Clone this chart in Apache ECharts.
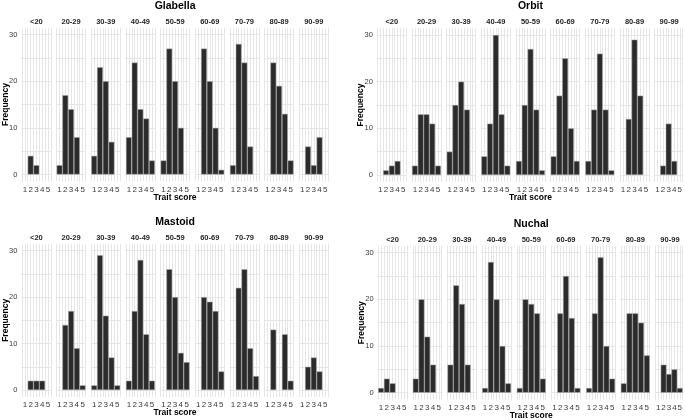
<!DOCTYPE html>
<html>
<head>
<meta charset="utf-8">
<script src="https://cdn.jsdelivr.net/npm/echarts@6/dist/echarts.min.js"></script>
<style>
  html, body { margin: 0; padding: 0; background: #fff; }
  #chart { width: 685px; height: 420px; }
</style>
</head>
<body>
<div id="chart"></div>
<script>
// facets and scores
const ageGroups = ['<20', '20-29', '30-39', '40-49', '50-59', '60-69', '70-79', '80-89', '90-99'];
const scores = [1, 2, 3, 4, 5];
const yTicks = [0, 10, 20, 30];
const yGrid = [0, 5, 10, 15, 20, 25, 30];

// counts per age group, scores 1..5
const glabella = [
  [0, 4, 2, 0, 0], [2, 17, 14, 8, 0], [4, 23, 20, 7, 0], [8, 24, 14, 12, 3], [3, 27, 20, 10, 0],
  [0, 27, 20, 10, 1], [2, 28, 24, 6, 0], [0, 24, 19, 13, 3], [0, 6, 2, 8, 0]
];
const orbit = [
  [0, 1, 2, 3, 0], [2, 13, 13, 11, 2], [5, 15, 20, 14, 0], [4, 11, 30, 13, 2], [3, 15, 27, 14, 1],
  [4, 17, 25, 10, 3], [3, 14, 26, 14, 1], [0, 12, 29, 17, 0], [0, 2, 11, 3, 0]
];
const mastoid = [
  [0, 2, 2, 2, 0], [0, 14, 17, 9, 1], [1, 29, 16, 7, 1], [2, 17, 28, 12, 2], [0, 26, 20, 8, 6],
  [0, 20, 19, 17, 4], [0, 22, 26, 9, 3], [0, 13, 0, 12, 2], [0, 5, 7, 4, 0]
];
const nuchal = [
  [1, 3, 2, 0, 0], [3, 20, 12, 6, 0], [6, 23, 19, 6, 0], [1, 28, 20, 10, 2], [1, 20, 19, 17, 3],
  [0, 17, 25, 16, 1], [1, 17, 29, 10, 3], [2, 17, 17, 15, 8], [0, 6, 4, 5, 1]
];

const traits = [
  { name: 'Glabella', counts: glabella },
  { name: 'Orbit', counts: orbit },
  { name: 'Mastoid', counts: mastoid },
  { name: 'Nuchal', counts: nuchal }
];

// panel placement (px): left edge of first facet, top / bottom of plotting area
const panels = [
  { left: 21.4, top: 27.6, bottom: 181.5 },
  { left: 376.8, top: 28.0, bottom: 182.0 },
  { left: 21.4, top: 243.7, bottom: 397.0 },
  { left: 377.6, top: 245.7, bottom: 399.7 }
];
const FACET_W = 30;
const FACET_STEP = 34.67;
const UNIT = FACET_W / 5.2;
const FONT = '"Liberation Sans", Arial, sans-serif';
const xGrid = [0.5, 1, 1.5, 2, 2.5, 3, 3.5, 4, 4.5, 5, 5.5];

const grid = [], xAxis = [], yAxis = [], series = [], graphic = [];
const gridLine = { show: true, lineStyle: { color: '#e6e6e6', width: 1 } };

traits.forEach((t, p) => {
  const pn = panels[p];
  const h = pn.bottom - pn.top;
  const zeroY = pn.bottom - h * 1.5 / 33;
  ageGroups.forEach((g, f) => {
    const k = grid.length;
    const left = pn.left + f * FACET_STEP;
    grid.push({ left: left, top: pn.top, width: FACET_W, height: h, containLabel: false });
    xAxis.push({
      gridIndex: k, type: 'value', min: 0.4, max: 5.6,
      axisLine: { show: false },
      axisTick: { show: false, customValues: xGrid },
      axisLabel: { customValues: scores, fontSize: 8, color: '#3a3a3a', fontFamily: FONT, margin: 4 },
      splitLine: gridLine
    });
    yAxis.push({
      gridIndex: k, type: 'value', min: -1.5, max: 31.5,
      axisLine: { show: false },
      axisTick: { show: false, customValues: yGrid },
      axisLabel: { show: f === 0, customValues: yTicks, fontSize: 7.5, color: '#3a3a3a', fontFamily: FONT, margin: 4 },
      splitLine: gridLine
    });
    series.push({
      type: 'bar', xAxisIndex: k, yAxisIndex: k,
      data: scores.map((s, i) => [s, t.counts[f][i]]).filter(d => d[1] > 0),
      barWidth: UNIT,
      itemStyle: { color: '#2b2b2b', borderColor: '#a8a8a8', borderWidth: 0.5 },
      silent: true
    });
    graphic.push({
      type: 'text', x: left + FACET_W / 2, y: pn.top - 6, silent: true,
      style: { text: g, align: 'center', verticalAlign: 'middle', fontSize: 7.5, fontWeight: 'bold', fontFamily: FONT, fill: '#262626' }
    });
  });
  const right = pn.left + 8 * FACET_STEP + FACET_W;
  const cx = (pn.left + right) / 2;
  graphic.push({
    type: 'text', x: cx, y: pn.top - 21.5, silent: true,
    style: { text: t.name, align: 'center', verticalAlign: 'middle', fontSize: 10.5, fontWeight: 'bold', fontFamily: FONT, fill: '#000' }
  });
  graphic.push({
    type: 'text', x: cx, y: zeroY + 23, silent: true,
    style: { text: 'Trait score', align: 'center', verticalAlign: 'middle', fontSize: 8.5, fontWeight: 'bold', fontFamily: FONT, fill: '#000' }
  });
  graphic.push({
    type: 'text', x: pn.left - 16, y: (pn.top + pn.bottom) / 2, rotation: Math.PI / 2, silent: true,
    style: { text: 'Frequency', align: 'center', verticalAlign: 'middle', fontSize: 8.5, fontWeight: 'bold', fontFamily: FONT, fill: '#000' }
  });
});

const chart = echarts.init(document.getElementById('chart'), null, { renderer: 'canvas' });
chart.setOption({
  backgroundColor: '#fff',
  animation: false,
  grid: grid,
  xAxis: xAxis,
  yAxis: yAxis,
  series: series,
  graphic: graphic
});
</script>
</body>
</html>
